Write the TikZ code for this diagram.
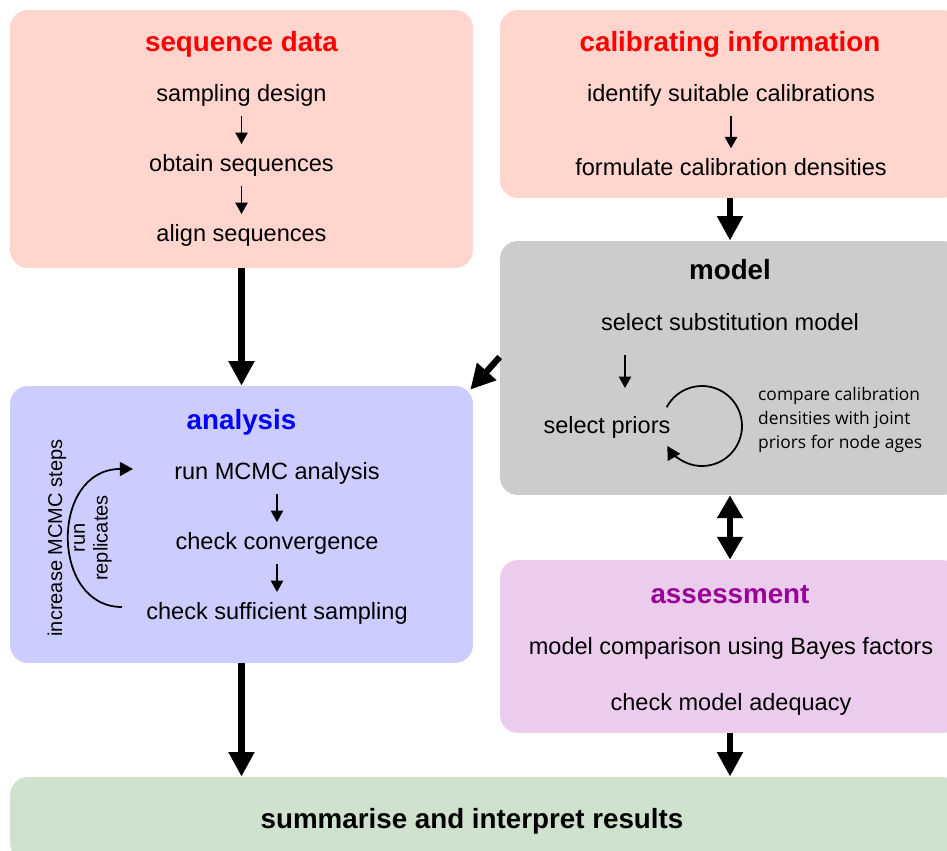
\documentclass[tikz,border=0pt]{standalone}
\usepackage{fontspec}
\setmainfont{Liberation Sans}
\newfontfamily\notefont{Open Sans}
\usepackage{tikz}
\usetikzlibrary{arrows.meta}
\definecolor{datared}{RGB}{255,213,205}
\definecolor{modelgray}{RGB}{204,204,204}
\definecolor{analysisblue}{RGB}{204,204,255}
\definecolor{assesspink}{RGB}{236,204,236}
\definecolor{resultgreen}{RGB}{207,226,206}
\definecolor{assesspurple}{RGB}{153,0,153}

\begin{document}
\begin{tikzpicture}[
    x=0.02cm, y=-0.02cm,
    box/.style={rectangle, rounded corners=0.36cm, inner sep=0pt},
    title/.style={font=\fontsize{15.8}{18}\selectfont\bfseries, yshift=-0.04cm},
    item/.style={font=\fontsize{13.4}{16}\selectfont, inner sep=5.5pt, yshift=-0.04cm},
    note/.style={font=\notefont\fontsize{9.9}{13.6}\selectfont, align=left, anchor=west},
    side/.style={font=\fontsize{11.4}{13}\selectfont, align=center, rotate=90},
    bigarrow/.style={-{Triangle[width=14pt,length=14pt]}, line width=3.6pt},
    smallarrow/.style={-{Triangle[width=7pt,length=6.5pt]}, line width=1pt},
    looparrow/.style={-{Triangle[width=8pt,length=7.5pt]}, line width=1pt}
]
\clip (0,0) rectangle (947,851);

% boxes
\node[box, fill=datared, minimum width=9.26cm, minimum height=5.16cm] (seq) at (241.5,139) {};
\node[box, fill=datared, minimum width=9.2cm, minimum height=3.76cm] (cal) at (730,104) {};
\node[box, fill=modelgray, minimum width=9.2cm, minimum height=5.08cm] (mod) at (730,368) {};
\node[box, fill=analysisblue, minimum width=9.26cm, minimum height=5.54cm] (ana) at (241.5,524.5) {};
\node[box, fill=assesspink, minimum width=9.2cm, minimum height=3.46cm] (ass) at (730,646.5) {};
\node[box, fill=resultgreen, minimum width=19cm, minimum height=1.68cm] (res) at (485,819) {};

% sequence data
\node[title, red] (seqtitle) at (241.5,42) {sequence data};
\node[item] (sd) at (241.5,93) {sampling design};
\node[item] (os) at (241.5,163) {obtain sequences};
\node[item] (as) at (241.5,233) {align sequences};
\draw[smallarrow] (sd) -- (os);
\draw[smallarrow] (os) -- (as);

% calibrating information
\node[title, red] (caltitle) at (730,42) {calibrating information};
\node[item] (isc) at (731,93) {identify suitable calibrations};
\node[item] (fcd) at (731,165) {formulate calibration densities};
\draw[smallarrow] (isc) -- (fcd);

% model
\node[title] (modtitle) at (730,268) {model};
\node[item] (ssm) at (730,320) {select substitution model};
\node[item] (pri) at (607,425) {select priors};
\coordinate (loop) at (702,426);
\draw[smallarrow, shorten <=0.28cm, shorten >=0.36cm] (ssm.south -| 625,0) -- (pri.north -| 625,0);
\draw[looparrow] (loop) ++(-152:40) arc[start angle=-152, end angle=150, radius=40];
\node[note] (cmp) at (752,420) {compare calibration\\densities with joint\\priors for node ages};

% analysis
\node[title, blue] (anatitle) at (241.5,420) {analysis};
\node[item] (run) at (277,471) {run MCMC analysis};
\node[item] (cc) at (277,541) {check convergence};
\node[item] (css) at (277,611) {check sufficient sampling};
\draw[smallarrow] (run) -- (cc);
\draw[smallarrow] (cc) -- (css);
\node[side] (inc) at (57,538) {increase MCMC steps};
\node[side] (rep) at (93,538) {run\\replicates};
\coordinate (loopstart) at (122,607);
\coordinate (loopend) at (133,469);
\draw[looparrow] (loopstart) .. controls (50,607) and (50,469) .. (loopend);

% assessment
\node[title, assesspurple] (asstitle) at (730,593) {assessment};
\node[item] (mcb) at (731,646) {model comparison using Bayes factors};
\node[item] (cma) at (731,702) {check model adequacy};

% results
\node[title] (restitle) at (472,819) {summarise and interpret results};

% connectors
\draw[bigarrow] (seq) -- (ana);
\draw[bigarrow] (cal) -- (mod);
\draw[bigarrow, {Triangle[width=14pt,length=13pt]}-{Triangle[width=14pt,length=13pt]}] (mod) -- (ass);
\draw[bigarrow] ([yshift=0.22cm]mod.west) -- ([shift={(-0.06cm,-0.08cm)}]ana.north east);
\draw[bigarrow] (ana.south) -- (ana.south |- res.north);
\draw[bigarrow] (ass.south) -- (ass.south |- res.north);

\end{tikzpicture}
\end{document}
